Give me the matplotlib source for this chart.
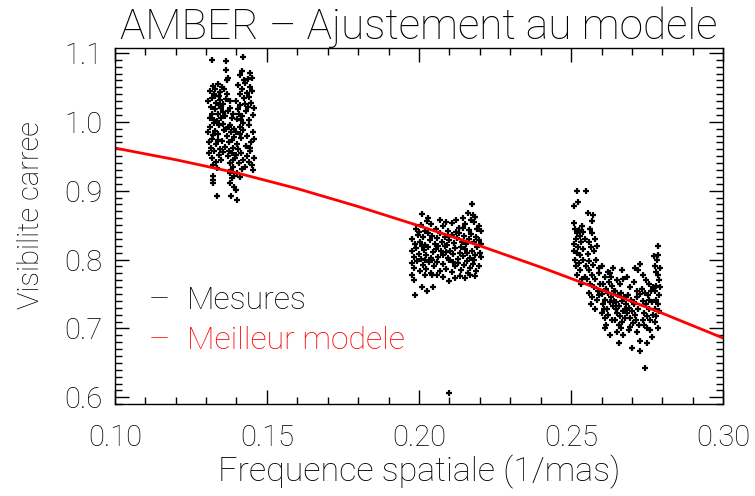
import matplotlib
matplotlib.use("Agg")
import matplotlib.pyplot as plt
from matplotlib.ticker import MultipleLocator

plt.rcParams['font.family'] = ['Roboto', 'DejaVu Sans']
plt.rcParams['font.weight'] = 'light'
plt.rcParams['axes.titleweight'] = 'light'
plt.rcParams['axes.labelweight'] = 'light'

# model curve
model_x = [0.10, 0.12, 0.14, 0.16, 0.18, 0.20, 0.22, 0.24, 0.26, 0.28, 0.30]
model_y = [0.962, 0.945, 0.926, 0.903, 0.877, 0.849, 0.820, 0.789, 0.756, 0.722, 0.686]

# first group of measures (~0.14 1/mas)
c1 = [
    (0.1320, 1.090), (0.1365, 1.088), (0.1420, 1.094),
    (0.1364, 1.075), (0.1417, 1.074), (0.1411, 1.068), (0.1373, 1.063), (0.1370, 1.060),
    (0.1425, 1.061), (0.1439, 1.062), (0.1450, 1.063), (0.1444, 1.071),
    (0.1312, 1.045), (0.1322, 1.052), (0.1330, 1.048), (0.1338, 1.055), (0.1345, 1.043),
    (0.1352, 1.050), (0.1360, 1.047), (0.1368, 1.041), (0.1326, 1.040), (0.1341, 1.038),
    (0.1405, 1.054), (0.1418, 1.048), (0.1428, 1.056), (0.1436, 1.042), (0.1445, 1.050),
    (0.1452, 1.045), (0.1410, 1.040), (0.1440, 1.036),
    (0.1308, 1.030), (0.1315, 1.022), (0.1320, 1.035), (0.1328, 1.018), (0.1333, 1.028),
    (0.1340, 1.012), (0.1346, 1.032), (0.1350, 1.020), (0.1357, 1.026), (0.1362, 1.008),
    (0.1366, 1.033), (0.1372, 1.015), (0.1312, 1.005), (0.1325, 1.003), (0.1337, 1.001),
    (0.1348, 1.006), (0.1355, 1.014), (0.1343, 1.024), (0.1318, 1.012), (0.1331, 1.038),
    (0.1398, 1.030), (0.1404, 1.018), (0.1412, 1.025), (0.1419, 1.008), (0.1426, 1.035),
    (0.1432, 1.015), (0.1438, 1.022), (0.1447, 1.028), (0.1453, 1.010), (0.1458, 1.020),
    (0.1401, 1.004), (0.1415, 1.002), (0.1442, 1.003), (0.1408, 1.012), (0.1429, 1.026),
    (0.1380, 1.020), (0.1386, 1.005), (0.1378, 1.030), (0.1390, 1.012),
    (0.1307, 0.985), (0.1314, 0.992), (0.1321, 0.975), (0.1327, 0.998), (0.1334, 0.968),
    (0.1339, 0.982), (0.1344, 0.995), (0.1351, 0.972), (0.1358, 0.988), (0.1363, 0.964),
    (0.1369, 0.979), (0.1374, 0.993), (0.1316, 0.962), (0.1330, 0.987), (0.1347, 0.961),
    (0.1356, 0.997), (0.1311, 0.970), (0.1324, 0.981), (0.1340, 0.974), (0.1365, 0.990),
    (0.1377, 0.970), (0.1383, 0.985), (0.1388, 0.962), (0.1393, 0.978), (0.1380, 0.996),
    (0.1392, 0.990), (0.1386, 0.974),
    (0.1397, 0.985), (0.1403, 0.968), (0.1410, 0.993), (0.1416, 0.976), (0.1423, 0.988),
    (0.1430, 0.965), (0.1435, 0.980), (0.1441, 0.995), (0.1448, 0.970), (0.1454, 0.985),
    (0.1459, 0.975), (0.1406, 0.960), (0.1420, 0.999), (0.1444, 0.962), (0.1413, 0.983),
    (0.1310, 0.955), (0.1318, 0.948), (0.1326, 0.958), (0.1333, 0.942), (0.1342, 0.952),
    (0.1349, 0.945), (0.1357, 0.956), (0.1322, 0.937), (0.1336, 0.933),
    (0.1372, 0.950), (0.1378, 0.940), (0.1384, 0.955), (0.1389, 0.935), (0.1394, 0.948),
    (0.1381, 0.930), (0.1387, 0.944), (0.1375, 0.958),
    (0.1400, 0.952), (0.1407, 0.940), (0.1414, 0.955), (0.1421, 0.945), (0.1427, 0.935),
    (0.1433, 0.950), (0.1440, 0.942), (0.1446, 0.957), (0.1452, 0.938), (0.1457, 0.948),
    (0.1418, 0.932),
    (0.1323, 0.921), (0.1323, 0.916), (0.1323, 0.911), (0.1380, 0.925), (0.1386, 0.918),
    (0.1392, 0.922), (0.1378, 0.911), (0.1393, 0.906), (0.1398, 0.901), (0.1402, 0.926),
    (0.1410, 0.920), (0.1455, 0.930),
    (0.1335, 0.893), (0.1382, 0.892), (0.1402, 0.887),
]

# second group (~0.21 1/mas)
c2 = [
    (0.2009, 0.866), (0.2031, 0.860), (0.2069, 0.858), (0.2144, 0.860), (0.2173, 0.881),
    (0.2176, 0.865), (0.2160, 0.868), (0.2185, 0.862), (0.2120, 0.857),
    (0.1990, 0.845), (0.2005, 0.850), (0.2018, 0.842), (0.2040, 0.852), (0.2055, 0.845),
    (0.2078, 0.849), (0.2095, 0.841), (0.2110, 0.853), (0.2130, 0.846), (0.2146, 0.846),
    (0.2151, 0.851), (0.2165, 0.843), (0.2180, 0.855), (0.2197, 0.849), (0.2205, 0.842),
    (0.2025, 0.856), (0.2088, 0.855), (0.2170, 0.857), (0.2190, 0.844),
    (0.1978, 0.830), (0.1986, 0.822), (0.1995, 0.836), (0.2003, 0.826), (0.2012, 0.833),
    (0.2020, 0.821), (0.2028, 0.838), (0.2036, 0.828), (0.2044, 0.834), (0.2052, 0.823),
    (0.2060, 0.831), (0.2068, 0.839), (0.2076, 0.825), (0.2084, 0.833), (0.2092, 0.821),
    (0.2100, 0.828), (0.2108, 0.836), (0.2116, 0.824), (0.2124, 0.832), (0.2132, 0.839),
    (0.2140, 0.826), (0.2148, 0.834), (0.2156, 0.822), (0.2164, 0.830), (0.2172, 0.837),
    (0.2180, 0.825), (0.2188, 0.833), (0.2196, 0.828), (0.2203, 0.823), (0.2000, 0.840),
    (0.2064, 0.820), (0.2120, 0.840),
    (0.1976, 0.812), (0.1983, 0.804), (0.1991, 0.817), (0.1999, 0.808), (0.2007, 0.801),
    (0.2015, 0.814), (0.2023, 0.806), (0.2031, 0.818), (0.2039, 0.802), (0.2047, 0.811),
    (0.2055, 0.816), (0.2063, 0.804), (0.2071, 0.812), (0.2079, 0.807), (0.2087, 0.819),
    (0.2095, 0.803), (0.2103, 0.813), (0.2111, 0.808), (0.2119, 0.817), (0.2127, 0.801),
    (0.2135, 0.810), (0.2143, 0.805), (0.2151, 0.815), (0.2159, 0.809), (0.2167, 0.802),
    (0.2175, 0.813), (0.2183, 0.806), (0.2191, 0.818), (0.2199, 0.810), (0.2205, 0.804),
    (0.2010, 0.819), (0.2043, 0.800), (0.2090, 0.811), (0.2139, 0.818), (0.2180, 0.800),
    (0.1977, 0.795), (0.1985, 0.788), (0.1994, 0.798), (0.2004, 0.783), (0.2013, 0.792),
    (0.2022, 0.786), (0.2032, 0.797), (0.2041, 0.781), (0.2050, 0.790), (0.2059, 0.796),
    (0.2068, 0.784), (0.2078, 0.793), (0.2088, 0.787), (0.2098, 0.799), (0.2108, 0.782),
    (0.2118, 0.791), (0.2128, 0.795), (0.2138, 0.785), (0.2148, 0.792), (0.2158, 0.798),
    (0.2168, 0.788), (0.2178, 0.794), (0.2188, 0.783), (0.2198, 0.790), (0.2020, 0.799),
    (0.2112, 0.797), (0.2160, 0.781),
    (0.1976, 0.778), (0.1984, 0.771), (0.2009, 0.760), (0.1987, 0.749), (0.2027, 0.754),
    (0.2047, 0.760), (0.2100, 0.769), (0.2118, 0.773), (0.2151, 0.773), (0.2166, 0.777),
    (0.2020, 0.777), (0.2043, 0.777), (0.2058, 0.777), (0.2080, 0.775), (0.2135, 0.776),
    (0.2185, 0.776),
    (0.2099, 0.607),
]

# third group (~0.265 1/mas)
c3 = [
    (0.2519, 0.900), (0.2549, 0.900), (0.2524, 0.883), (0.2508, 0.878), (0.2508, 0.853),
    (0.2535, 0.849), (0.2512, 0.845), (0.2520, 0.838), (0.2515, 0.830), (0.2528, 0.834),
    (0.2510, 0.822), (0.2522, 0.818), (0.2532, 0.826), (0.2540, 0.840), (0.2518, 0.810),
    (0.2530, 0.806), (0.2512, 0.800), (0.2525, 0.795), (0.2538, 0.815), (0.2545, 0.830),
    (0.2515, 0.790), (0.2528, 0.785), (0.2540, 0.800), (0.2520, 0.778), (0.2535, 0.772),
    (0.2550, 0.790), (0.2532, 0.765), (0.2545, 0.775), (0.2510, 0.812), (0.2526, 0.843),
    (0.2555, 0.867), (0.2573, 0.865), (0.2568, 0.856), (0.2562, 0.845), (0.2570, 0.838),
    (0.2578, 0.830), (0.2558, 0.825), (0.2565, 0.818), (0.2575, 0.812), (0.2585, 0.820),
    (0.2555, 0.808), (0.2560, 0.798), (0.2572, 0.792), (0.2582, 0.800), (0.2590, 0.788),
    (0.2558, 0.785), (0.2568, 0.778), (0.2580, 0.772), (0.2592, 0.780), (0.2562, 0.765),
    (0.2575, 0.760), (0.2588, 0.755), (0.2560, 0.752), (0.2570, 0.745), (0.2585, 0.742),
    (0.2595, 0.765), (0.2565, 0.735), (0.2580, 0.728), (0.2590, 0.748), (0.2553, 0.772),
    (0.2600, 0.790), (0.2610, 0.775), (0.2620, 0.782), (0.2628, 0.781), (0.2639, 0.788),
    (0.2605, 0.765), (0.2615, 0.758), (0.2625, 0.768), (0.2635, 0.762), (0.2602, 0.750),
    (0.2612, 0.742), (0.2622, 0.752), (0.2632, 0.745), (0.2640, 0.755), (0.2605, 0.735),
    (0.2618, 0.728), (0.2628, 0.738), (0.2638, 0.732), (0.2600, 0.722), (0.2610, 0.715),
    (0.2622, 0.720), (0.2635, 0.712), (0.2615, 0.705), (0.2628, 0.691), (0.2608, 0.728),
    (0.2630, 0.775), (0.2642, 0.740), (0.2612, 0.700),
    (0.2667, 0.785), (0.2650, 0.770), (0.2660, 0.765), (0.2672, 0.772), (0.2645, 0.755),
    (0.2655, 0.748), (0.2665, 0.752), (0.2675, 0.745), (0.2648, 0.738), (0.2658, 0.732),
    (0.2668, 0.740), (0.2678, 0.728), (0.2652, 0.722), (0.2662, 0.718), (0.2672, 0.725),
    (0.2645, 0.712), (0.2657, 0.705), (0.2668, 0.710), (0.2678, 0.715), (0.2656, 0.679),
    (0.2672, 0.691), (0.2650, 0.695), (0.2663, 0.700), (0.2680, 0.735), (0.2646, 0.728),
    (0.2711, 0.788), (0.2721, 0.785), (0.2727, 0.793), (0.2689, 0.698), (0.2700, 0.672),
    (0.2685, 0.775), (0.2695, 0.760), (0.2705, 0.768), (0.2715, 0.755), (0.2688, 0.748),
    (0.2698, 0.742), (0.2708, 0.738), (0.2718, 0.745), (0.2690, 0.730), (0.2700, 0.725),
    (0.2710, 0.720), (0.2720, 0.728), (0.2692, 0.715), (0.2702, 0.708), (0.2712, 0.712),
    (0.2722, 0.705), (0.2695, 0.702), (0.2715, 0.695), (0.2705, 0.735), (0.2725, 0.750),
    (0.2685, 0.722),
    (0.2727, 0.682), (0.2727, 0.667), (0.2749, 0.679), (0.2743, 0.642), (0.2765, 0.687),
    (0.2735, 0.778), (0.2745, 0.770), (0.2755, 0.765), (0.2732, 0.758), (0.2742, 0.752),
    (0.2752, 0.748), (0.2762, 0.755), (0.2735, 0.740), (0.2745, 0.735), (0.2755, 0.728),
    (0.2765, 0.738), (0.2738, 0.722), (0.2748, 0.718), (0.2758, 0.712), (0.2768, 0.720),
    (0.2740, 0.705), (0.2750, 0.700), (0.2760, 0.698), (0.2735, 0.712), (0.2755, 0.742),
    (0.2770, 0.760),
    (0.2785, 0.819), (0.2785, 0.807), (0.2771, 0.805), (0.2782, 0.800), (0.2793, 0.788),
    (0.2787, 0.778), (0.2775, 0.790), (0.2778, 0.782), (0.2790, 0.770), (0.2780, 0.762),
    (0.2775, 0.755), (0.2788, 0.748), (0.2778, 0.742), (0.2785, 0.735), (0.2775, 0.728),
    (0.2790, 0.725), (0.2780, 0.718), (0.2776, 0.710), (0.2786, 0.700), (0.2792, 0.760),
]

meas_x = [p[0] for p in c1 + c2 + c3]
meas_y = [p[1] for p in c1 + c2 + c3]

fig = plt.figure(figsize=(7.55, 4.96), dpi=100)
ax = fig.add_axes([0.152, 0.185, 0.806, 0.718])

ax.plot(meas_x, meas_y, linestyle='none', marker='+', markersize=4,
        markeredgewidth=1.6, color='black')
ax.plot(model_x, model_y, color='red', linewidth=2.0)

ax.set_xlim(0.10, 0.30)
ax.set_ylim(0.59, 1.107)
ax.xaxis.set_major_locator(MultipleLocator(0.05))
ax.xaxis.set_minor_locator(MultipleLocator(0.01))
ax.yaxis.set_major_locator(MultipleLocator(0.1))
ax.yaxis.set_minor_locator(MultipleLocator(0.01))
ax.xaxis.set_major_formatter(plt.FormatStrFormatter('%.2f'))
ax.yaxis.set_major_formatter(plt.FormatStrFormatter('%.1f'))
ax.tick_params(which='both', direction='in', top=True, right=True, width=1,
               labelsize=21, colors='black')
ax.tick_params(which='major', length=10)
ax.tick_params(which='minor', length=5)
ax.tick_params(axis='x', which='major', pad=14)
ax.tick_params(axis='y', which='major', pad=9)
for s in ax.spines.values():
    s.set_linewidth(1)

ax.set_title('AMBER \u2013 Ajustement au modele', fontsize=30.5, pad=6)
ax.set_xlabel('Frequence spatiale (1/mas)', fontsize=24.5, labelpad=2)
ax.set_ylabel('Visibilite carree', fontsize=21, labelpad=12)
ax.yaxis.set_label_coords(-0.115, 0.53)

ax.text(0.058, 0.292, '\u2014', transform=ax.transAxes, fontsize=18,
        color='black', va='center')
ax.text(0.118, 0.292, 'Mesures', transform=ax.transAxes, fontsize=23,
        color='black', va='center')
ax.text(0.058, 0.180, '\u2014', transform=ax.transAxes, fontsize=18,
        color='red', va='center')
ax.text(0.118, 0.180, 'Meilleur modele', transform=ax.transAxes, fontsize=23,
        color='red', va='center')

fig.savefig('out.png', dpi=100)
